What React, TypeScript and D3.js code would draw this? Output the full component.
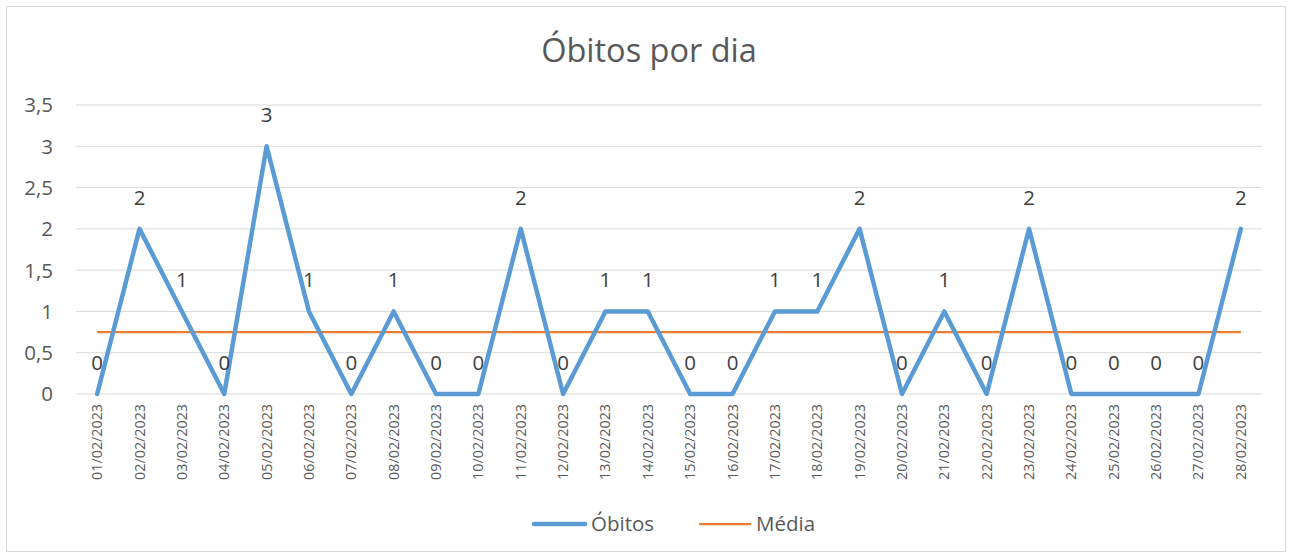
import React, { useEffect, useRef } from 'react';
import * as d3 from 'd3';

// daily values
const days = [
  '01/02/2023', '02/02/2023', '03/02/2023', '04/02/2023', '05/02/2023', '06/02/2023', '07/02/2023',
  '08/02/2023', '09/02/2023', '10/02/2023', '11/02/2023', '12/02/2023', '13/02/2023', '14/02/2023',
  '15/02/2023', '16/02/2023', '17/02/2023', '18/02/2023', '19/02/2023', '20/02/2023', '21/02/2023',
  '22/02/2023', '23/02/2023', '24/02/2023', '25/02/2023', '26/02/2023', '27/02/2023', '28/02/2023',
];
const obitos = [0, 2, 1, 0, 3, 1, 0, 1, 0, 0, 2, 0, 1, 1, 0, 0, 1, 1, 2, 0, 1, 0, 2, 0, 0, 0, 0, 2];
const media = [0.75];
const yTicks = [0, 0.5, 1, 1.5, 2, 2.5, 3, 3.5];

const BLUE = '#5B9BD5';
const ORANGE = '#ED7D31';
const TEXT = '#595959';
const FONT = '"Open Sans", "Noto Sans", sans-serif';

function App() {
  const svgRef = useRef<SVGSVGElement>(null);

  useEffect(() => {
    const svg = d3.select(svgRef.current);
    svg.selectAll('*').remove();

    const left = 76, right = 1262, top = 105, bottom = 394;

    const x = d3.scaleBand().domain(days).range([left, right]);
    const y = d3.scaleLinear().domain([0, 3.5]).range([bottom, top]);
    const cx = (d: string) => (x(d) as number) + x.bandwidth() / 2;

    // chart frame
    svg.append('rect')
      .attr('x', 6.5).attr('y', 6.5)
      .attr('width', 1279).attr('height', 545)
      .attr('fill', '#fff')
      .attr('stroke', '#D9D9D9');

    // title
    svg.append('text')
      .attr('x', 649).attr('y', 62)
      .attr('text-anchor', 'middle')
      .attr('font-size', 32.5)
      .attr('fill', TEXT)
      .text('Óbitos por dia');

    // gridlines
    svg.append('g')
      .selectAll('line')
      .data(yTicks)
      .join('line')
      .attr('x1', left).attr('x2', right)
      .attr('y1', d => y(d)).attr('y2', d => y(d))
      .attr('stroke', '#D9D9D9')
      .attr('stroke-width', 1);

    // y axis labels
    svg.append('g')
      .selectAll('text')
      .data(yTicks)
      .join('text')
      .attr('x', 53)
      .attr('y', d => y(d))
      .attr('dy', '0.36em')
      .attr('text-anchor', 'end')
      .attr('font-size', 20.5)
      .attr('fill', TEXT)
      .text(d => d3.format('~')(d).replace('.', ','));

    // x axis labels (rotated)
    svg.append('g')
      .selectAll('text')
      .data(days)
      .join('text')
      .attr('transform', d => `translate(${cx(d) + 5},${bottom + 10}) rotate(-90)`)
      .attr('text-anchor', 'end')
      .attr('font-size', 14.3)
      .attr('fill', TEXT)
      .text(d => d);

    // média line
    svg.append('line')
      .attr('x1', cx(days[0])).attr('x2', cx(days[days.length - 1]))
      .attr('y1', y(media[0])).attr('y2', y(media[0]))
      .attr('stroke', ORANGE)
      .attr('stroke-width', 2.25);

    // óbitos line
    const line = d3.line<number>()
      .x((_, i) => cx(days[i]))
      .y(d => y(d));

    svg.append('path')
      .datum(obitos)
      .attr('fill', 'none')
      .attr('stroke', BLUE)
      .attr('stroke-width', 4.5)
      .attr('stroke-linejoin', 'round')
      .attr('stroke-linecap', 'round')
      .attr('d', line);

    // data labels
    svg.append('g')
      .selectAll('text')
      .data(obitos)
      .join('text')
      .attr('x', (_, i) => cx(days[i]))
      .attr('y', d => y(d) - 24)
      .attr('text-anchor', 'middle')
      .attr('font-size', 20.5)
      .attr('fill', '#404040')
      .text(d => d);

    // legend
    const legend = svg.append('g').attr('font-size', 20.5).attr('fill', TEXT);
    legend.append('line')
      .attr('x1', 534).attr('x2', 585).attr('y1', 524).attr('y2', 524)
      .attr('stroke', BLUE).attr('stroke-width', 4.5).attr('stroke-linecap', 'round');
    legend.append('text').attr('x', 591).attr('y', 531).text('Óbitos');
    legend.append('line')
      .attr('x1', 699).attr('x2', 751).attr('y1', 524).attr('y2', 524)
      .attr('stroke', ORANGE).attr('stroke-width', 2.25);
    legend.append('text').attr('x', 756).attr('y', 531).text('Média');
  }, []);

  return (
    <svg
      ref={svgRef}
      width={1292}
      height={555}
      style={{ position: 'absolute', left: 0, top: 0, fontFamily: FONT }}
    />
  );
}

export default App;
